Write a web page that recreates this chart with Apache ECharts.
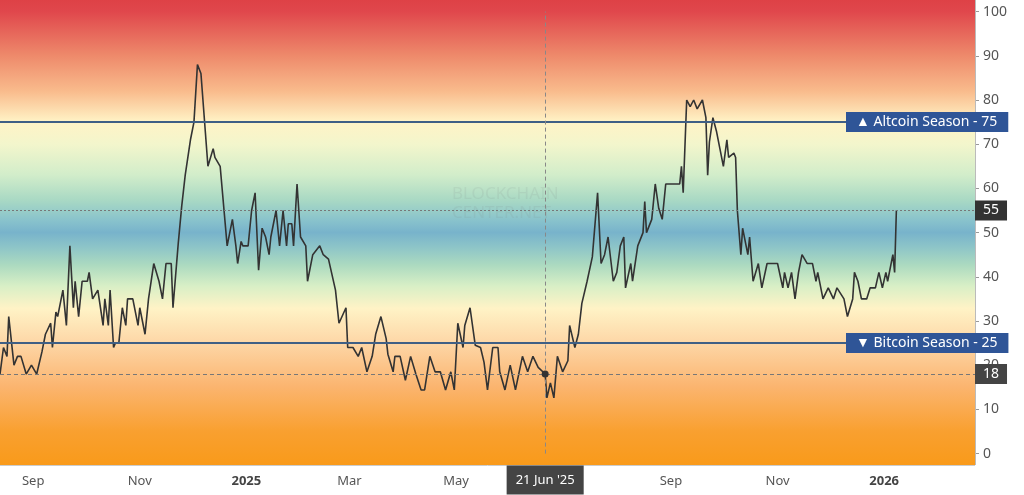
<!DOCTYPE html>
<html><head><meta charset="utf-8">
<script src="https://cdn.jsdelivr.net/npm/echarts@6/dist/echarts.min.js"></script>
<style>html,body{margin:0;padding:0;background:#fff}#c{width:1024px;height:495px}</style>
</head><body><div id="c"></div>
<script>
const dates = ['2024-08-13','2024-08-15','2024-08-17','2024-08-18','2024-08-21','2024-08-23','2024-08-25','2024-08-28','2024-08-31','2024-09-03','2024-09-06','2024-09-08','2024-09-11','2024-09-12','2024-09-14','2024-09-15','2024-09-18','2024-09-20','2024-09-22','2024-09-24','2024-09-25','2024-09-27','2024-09-29','2024-10-02','2024-10-03','2024-10-05','2024-10-08','2024-10-11','2024-10-12','2024-10-14','2024-10-15','2024-10-17','2024-10-18','2024-10-20','2024-10-22','2024-10-24','2024-10-25','2024-10-28','2024-10-29','2024-10-31','2024-11-01','2024-11-04','2024-11-06','2024-11-09','2024-11-12','2024-11-14','2024-11-16','2024-11-19','2024-11-20','2024-11-23','2024-11-25','2024-11-27','2024-11-30','2024-12-02','2024-12-04','2024-12-06','2024-12-07','2024-12-10','2024-12-13','2024-12-14','2024-12-17','2024-12-21','2024-12-24','2024-12-26','2024-12-27','2024-12-29','2024-12-30','2025-01-02','2025-01-04','2025-01-06','2025-01-08','2025-01-10','2025-01-12','2025-01-14','2025-01-15','2025-01-18','2025-01-20','2025-01-22','2025-01-24','2025-01-25','2025-01-27','2025-01-28','2025-01-30','2025-02-01','2025-02-04','2025-02-05','2025-02-08','2025-02-09','2025-02-12','2025-02-14','2025-02-17','2025-02-18','2025-02-21','2025-02-23','2025-02-27','2025-02-28','2025-03-03','2025-03-06','2025-03-08','2025-03-11','2025-03-14','2025-03-16','2025-03-19','2025-03-22','2025-03-23','2025-03-26','2025-03-27','2025-03-30','2025-04-02','2025-04-05','2025-04-08','2025-04-11','2025-04-13','2025-04-16','2025-04-19','2025-04-22','2025-04-25','2025-04-28','2025-04-30','2025-05-02','2025-05-05','2025-05-06','2025-05-09','2025-05-12','2025-05-15','2025-05-17','2025-05-19','2025-05-22','2025-05-25','2025-05-26','2025-05-29','2025-06-01','2025-06-04','2025-06-08','2025-06-11','2025-06-14','2025-06-17','2025-06-21','2025-06-22','2025-06-24','2025-06-26','2025-06-28','2025-07-01','2025-07-04','2025-07-05','2025-07-08','2025-07-10','2025-07-12','2025-07-15','2025-07-18','2025-07-21','2025-07-23','2025-07-25','2025-07-27','2025-07-30','2025-08-01','2025-08-03','2025-08-05','2025-08-06','2025-08-09','2025-08-10','2025-08-13','2025-08-16','2025-08-17','2025-08-18','2025-08-21','2025-08-23','2025-08-25','2025-08-27','2025-08-29','2025-09-06','2025-09-07','2025-09-08','2025-09-10','2025-09-12','2025-09-14','2025-09-16','2025-09-19','2025-09-21','2025-09-22','2025-09-23','2025-09-25','2025-09-27','2025-09-29','2025-10-01','2025-10-03','2025-10-04','2025-10-07','2025-10-08','2025-10-09','2025-10-11','2025-10-12','2025-10-15','2025-10-16','2025-10-18','2025-10-21','2025-10-23','2025-10-26','2025-10-29','2025-11-01','2025-11-04','2025-11-05','2025-11-07','2025-11-09','2025-11-11','2025-11-13','2025-11-15','2025-11-18','2025-11-21','2025-11-23','2025-11-24','2025-11-27','2025-11-30','2025-12-03','2025-12-05','2025-12-09','2025-12-11','2025-12-14','2025-12-15','2025-12-17','2025-12-19','2025-12-22','2025-12-24','2025-12-27','2025-12-29','2025-12-31','2026-01-02','2026-01-03','2026-01-06','2026-01-07','2026-01-08'];
const values = [18,24,22,31,20,22,22,18,20,18,23,27,29.5,24,32,31,37,29,47,33,39,31,39,39,41,35,37,29,35,29,37,24,25,25,33,29,35,35,35,29,33,27,35,43,39,35,43,43,33,47.5,56,63,71,75,88,86,86,65,69,67,65,47,53,47,43,48,47,47,55,59,41.5,51,49,45,49,55,47,55,47,52,52,47,61,49,47,39,45,45,47,45,44,44,37,29.5,33,24,24,22,24,18.5,22,27,31,26,22.5,18.5,22,22,16.6,22,18,14.4,14.4,22,18.5,18.5,14.4,18.5,14.4,29.5,24,29,33,24.5,24,20.7,14.4,24,24,18.5,14.4,20,14.4,22,18.5,22,19.5,18,12.6,16,12.6,22,18.5,21,29,24,27,34,39,44.5,59,43,45,49,39,41,47,49,37.5,43,39,47,50,57,50,53,61,55.5,53,61,61,65,59,80,78.5,80,78,80,76,63,70.5,76,73,69,65,71,67,68,67,55,45,51,45,49,39,43,37.5,43,43,43,37.5,41,37.5,41,35,41,45,43,43,39,41,35,37.5,35,37.5,35,31,35,41,39,35,35,37.5,37.5,41,37.5,41,39,45,41,55];
const xTickDates = ['2024-09-01','2024-11-01','2025-01-01','2025-03-01','2025-05-01','2025-09-01','2025-11-01','2026-01-01'];
const xMin = '2024-08-13', xMax = '2026-02-22';
const crossDate = '2025-06-21', crossValue = 18, lastValue = 55;
const altLevel = 75, btcLevel = 25;

const chart = echarts.init(document.getElementById('c'));
const ts = s => new Date(s + 'T00:00:00Z').getTime();
const data = dates.map((d,i)=>[ts(d), values[i]]);
const MON = ['Jan','Feb','Mar','Apr','May','Jun','Jul','Aug','Sep','Oct','Nov','Dec'];
const F = 'Noto Sans';
chart.setOption({
  animation:false,
  graphic:[
    {type:'rect', z:-10, shape:{x:0,y:0,width:975,height:465}, style:{fill:new echarts.graphic.LinearGradient(0,0,0,1,[
      {offset:0,color:'#de4146'},{offset:0.025,color:'#e0474c'},{offset:0.12,color:'#ee8a6b'},{offset:0.196,color:'#f9bb8c'},
      {offset:0.262,color:'#fff3c6'},{offset:0.31,color:'#f3f6cc'},{offset:0.376,color:'#d2edca'},{offset:0.43,color:'#a9d9c4'},
      {offset:0.475,color:'#88c2cc'},{offset:0.50,color:'#78b3cb'},{offset:0.53,color:'#8cc4c8'},{offset:0.57,color:'#acdac0'},{offset:0.615,color:'#d8efc6'},
      {offset:0.663,color:'#fff3c6'},{offset:0.738,color:'#fdd6a6'},{offset:0.83,color:'#fbb570'},{offset:0.927,color:'#f9a030'},{offset:1,color:'#f99a1a'}])}},
    {type:'line', z:5, shape:{x1:975.5,y1:0,x2:975.5,y2:465}, style:{stroke:'#bbb',lineWidth:1}},
    {type:'line', z:5, shape:{x1:0,y1:465.5,x2:975,y2:465.5}, style:{stroke:'#ccc',lineWidth:1}},
    {type:'text', z:1, left:452, top:185, style:{text:'BLOCKCHAIN\nCENTER.NET', fill:'rgba(120,130,130,0.12)', font:'17px "Noto Sans"', lineHeight:19}}
  ],
  grid:{left:0, right:49, top:11.6, bottom:41.4},
  xAxis:{type:'value', min:ts(xMin), max:ts(xMax), offset:11.4,
    axisLine:{show:false}, axisTick:{show:false}, splitLine:{show:false},
    axisLabel:{customValues:xTickDates.map(ts), color:'#555', fontSize:13, fontFamily:F, margin:10,
      formatter:v=>{const d=new Date(v); const m=d.getUTCMonth(); if(m===0) return '{b|'+d.getUTCFullYear()+'}'; return MON[m];},
      rich:{b:{fontWeight:'bold',color:'#444',fontSize:13,fontFamily:F}}}},
  yAxis:{type:'value', position:'right', min:0, max:100, interval:10,
    axisLine:{show:false}, axisTick:{show:true, length:4, lineStyle:{color:'#999'}}, splitLine:{show:false},
    axisLabel:{color:'#555', fontSize:14, fontFamily:F, margin:8}},
  series:[{type:'line', data:data, showSymbol:false, symbol:'none', lineStyle:{color:'#333', width:1.6}, z:3,
    markLine:{silent:true, symbol:'none', animation:false, data:[
      {yAxis:altLevel, lineStyle:{color:'#3f5f85',width:1.8,type:'solid'}, label:{position:'end', formatter:'▲ Altcoin Season - 75', offset:[-134,0], backgroundColor:'#2f5597', color:'#fff', fontSize:14, fontFamily:F, padding:[3,11,3,10]}},
      {yAxis:btcLevel, lineStyle:{color:'#3f5f85',width:1.8,type:'solid'}, label:{position:'end', formatter:'▼ Bitcoin Season - 25', offset:[-134,0], backgroundColor:'#2f5597', color:'#fff', fontSize:14, fontFamily:F, padding:[3,11,3,10]}},
      {yAxis:lastValue, lineStyle:{color:'#777',width:1,type:[2,2]}, label:{position:'end', formatter:'55', backgroundColor:'#333', color:'#fff', fontSize:14, fontFamily:F, padding:[3,8,3,8], offset:[-5,0]}},
      {yAxis:crossValue, lineStyle:{color:'#777',width:1,type:[4,3]}, label:{position:'end', formatter:'18', backgroundColor:'#444', color:'#fff', fontSize:14, fontFamily:F, padding:[3,8,3,8], offset:[-5,0]}},
      {xAxis:ts(crossDate), lineStyle:{color:'#888',width:1,type:[4,3]}, label:{position:'start', formatter:"21 Jun '25", backgroundColor:'#444', color:'#fff', fontSize:13, fontFamily:F, padding:[8,9,8,9], distance:12}}
    ]},
    markPoint:{silent:true, symbol:'circle', symbolSize:7, itemStyle:{color:'#333'}, label:{show:false}, data:[{coord:[ts(crossDate),crossValue]}]}
  }]
});
</script></body></html>
